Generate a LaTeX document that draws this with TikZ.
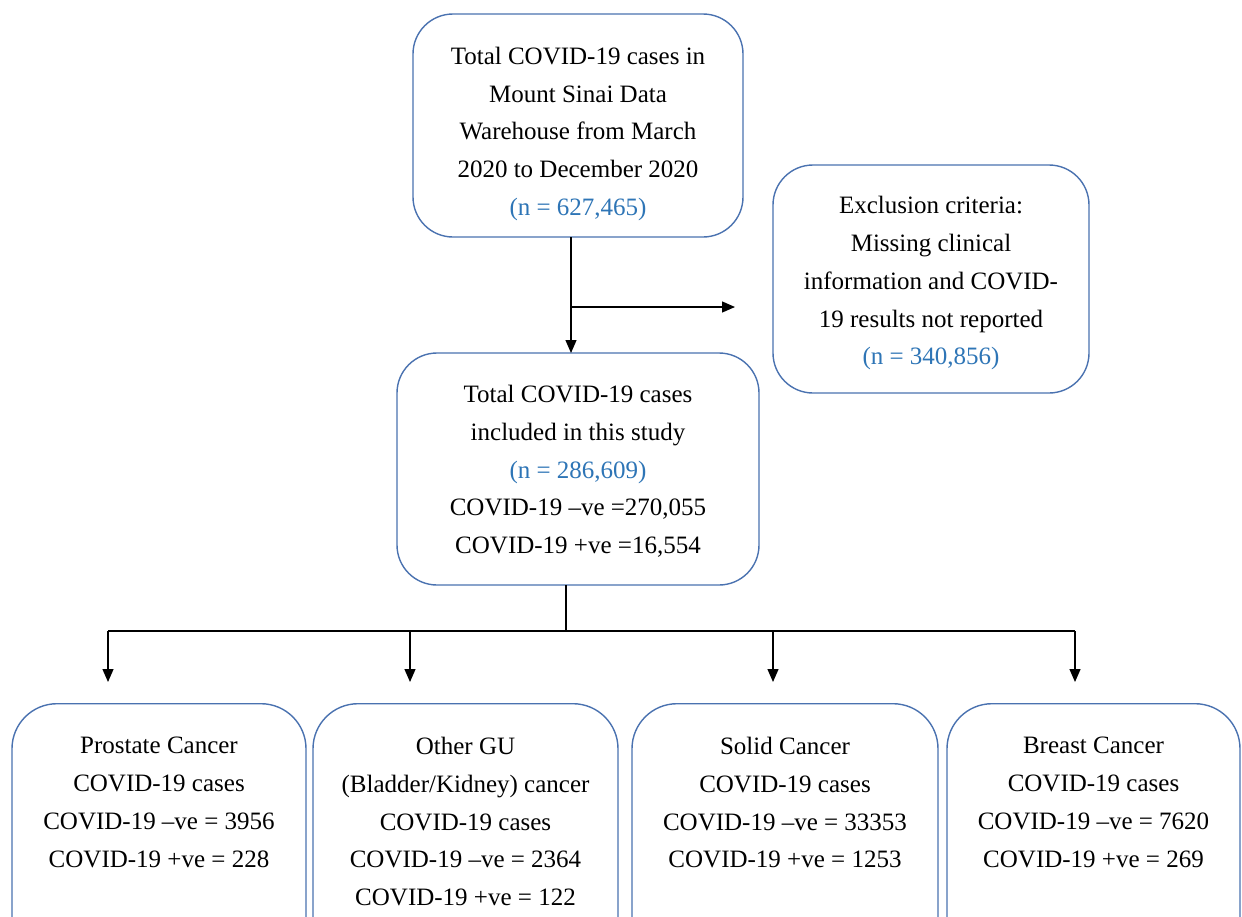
\documentclass[tikz,border=0pt]{standalone}
\usepackage{fontspec}
\setmainfont{Liberation Serif}
\usetikzlibrary{arrows.meta}
\definecolor{boxblue}{RGB}{74,114,176}
\definecolor{nblue}{RGB}{46,117,182}
\begin{document}
\begin{tikzpicture}[x=1pt,y=-1pt,
  box/.style={draw=boxblue, line width=1.4pt, rounded corners=40pt, inner sep=0pt, align=center,
    font=\fontsize{25}{37.8}\selectfont},
  lowbox/.style={draw=boxblue, line width=1.4pt, rounded corners=45pt, inner sep=0pt, anchor=north, minimum height=260pt},
  lowtext/.style={inner sep=0pt, align=center, anchor=north, font=\fontsize{25}{37.8}\selectfont},
  conn/.style={line width=1.3pt, black},
  arr/.style={conn, -{Triangle[width=11pt,length=13pt]}}
]
\clip (0,0) rectangle (1242,916);
\fill[white] (0,0) rectangle (1242,916);

\node[box, minimum width=330pt, minimum height=223pt] (top) at (578,125.5)
  {\rule{0pt}{34pt}Total COVID-19 cases in\\Mount Sinai Data\\Warehouse from March\\2020 to December 2020\\\textcolor{nblue}{(n = 627,465)}};

\node[box, minimum width=316pt, minimum height=228pt] (excl) at (931,279)
  {\rule{0pt}{26pt}Exclusion criteria:\\Missing clinical\\information and COVID-\\19 results not reported\\\textcolor{nblue}{(n = 340,856)}};

\node[box, minimum width=362pt, minimum height=232pt] (mid) at (578,469)
  {\rule{0pt}{22pt}Total COVID-19 cases\\included in this study\\\textcolor{nblue}{(n = 286,609)}\\COVID-19 --ve =270,055\\COVID-19 +ve =16,554};

\node[lowbox, minimum width=294pt] (pc) at (159,703) {};
\node[lowbox, minimum width=305pt] (gu) at (465.5,703) {};
\node[lowbox, minimum width=306pt] (sc) at (785,703) {};
\node[lowbox, minimum width=293pt] (bc) at (1093.5,703) {};

\node[lowtext] (pct) at (159,737) {Prostate Cancer\\COVID-19 cases\\COVID-19 --ve = 3956\\COVID-19 +ve = 228};
\node[lowtext] (gut) at (465.5,737) {Other GU\\(Bladder/Kidney) cancer\\COVID-19 cases\\COVID-19 --ve = 2364\\COVID-19 +ve = 122};
\node[lowtext] (sct) at (785,737) {Solid Cancer\\COVID-19 cases\\COVID-19 --ve = 33353\\COVID-19 +ve = 1253};
\node[lowtext] (bct) at (1093.5,737) {Breast Cancer\\COVID-19 cases\\COVID-19 --ve = 7620\\COVID-19 +ve = 269};

% top -> mid with branch to exclusion
\coordinate (t1) at (571,237);
\coordinate (t2) at (571,353);
\coordinate (br) at (571,307);
\coordinate (ex) at (735,307);
\draw[arr] (t1) -- (t2);
\draw[arr] (br) -- (ex);

% mid -> four groups
\coordinate (m1) at (566,585);
\coordinate (m2) at (566,631);
\coordinate (hL) at (108,631);
\coordinate (hR) at (1075,631);
\draw[conn] (m1) -- (m2);
\draw[conn] (hL) -- (hR);
\coordinate (a1) at (108,631);  \coordinate (b1) at (108,682);
\coordinate (a2) at (410,631);  \coordinate (b2) at (410,682);
\coordinate (a3) at (773,631);  \coordinate (b3) at (773,682);
\coordinate (a4) at (1075,631); \coordinate (b4) at (1075,682);
\draw[arr] (a1) -- (b1);
\draw[arr] (a2) -- (b2);
\draw[arr] (a3) -- (b3);
\draw[arr] (a4) -- (b4);
\end{tikzpicture}
\end{document}
